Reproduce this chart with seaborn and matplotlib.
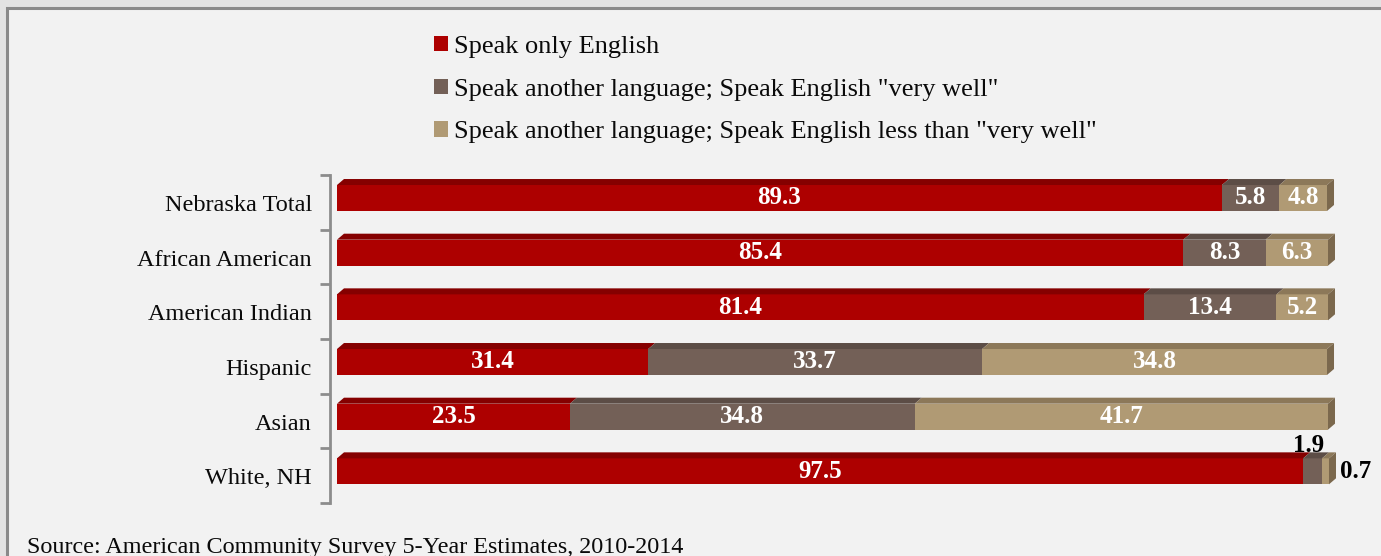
import numpy as np
import pandas as pd
import matplotlib
matplotlib.use("Agg")
import matplotlib.pyplot as plt
from matplotlib.patches import Polygon, Rectangle, Patch
from matplotlib.transforms import ScaledTranslation
import seaborn as sns

# Language spoken at home by race/ethnicity (percent)
categories = ["Nebraska Total", "African American", "American Indian",
              "Hispanic", "Asian", "White, NH"]
only_english = [89.3, 85.4, 81.4, 31.4, 23.5, 97.5]
english_very_well = [5.8, 8.3, 13.4, 33.7, 34.8, 1.9]
english_less_well = [4.8, 6.3, 5.2, 34.8, 41.7, 0.7]
series_names = ["Speak only English",
                'Speak another language; Speak English "very well"',
                'Speak another language; Speak English less than "very well"']

front_colors = ["#ad0000", "#736057", "#b09a74"]
top_colors = ["#850000", "#5c4d46", "#8c7859"]
side_color = "#7b684d"

sns.set_theme(style="white")
plt.rcParams["font.family"] = ["Liberation Serif", "DejaVu Serif"]
plt.rcParams["text.color"] = "#0a0a0a"

W, H = 1381, 556
fig = plt.figure(figsize=(W / 100, H / 100), dpi=100)
fig.patch.set_facecolor("#e3e3e3")

# inner panel with grey frame (behind the axes)
fig.patches.append(Rectangle((7 / W, -0.05), 1.2, 1.05 - 8 / H, transform=fig.transFigure,
                             facecolor="#f2f2f2", edgecolor="#8a8a8a", linewidth=2.2,
                             zorder=-5))

# axes geometry in pixels
ax_left, ax_right = 330, 1381
ax_top, ax_bot = 175, 503
ax = fig.add_axes([ax_left / W, (H - ax_bot) / H, (ax_right - ax_left) / W,
                   (ax_bot - ax_top) / H])
ax.set_facecolor("none")
ax.set_zorder(2)

ppx = 9.91                      # pixels per percentage point
x0_px = 337                     # pixel position of zero
xmin = -(x0_px - ax_left) / ppx
xmax = (ax_right - x0_px) / ppx
row_px = (ax_bot - ax_top) / 6.0
ytop_lim = -23 / row_px         # bar front centred 23 px below the frame top
ylims = (ytop_lim + 6, ytop_lim)

df = pd.DataFrame({"cat": categories, "a": only_english,
                   "b": english_very_well, "c": english_less_well})
series = [df["a"].to_numpy(), df["b"].to_numpy(), df["c"].to_numpy()]
cums = np.cumsum(np.vstack(series), axis=0)

bar_w = 0.475
# stacked bars: widest cumulative layer first
for k in [2, 1, 0]:
    sns.barplot(x=cums[k], y=df["cat"], orient="h", color=front_colors[k],
                saturation=1, width=bar_w, ax=ax, zorder=2, linewidth=0)

ax.set_xlim(xmin, xmax)
ax.set_ylim(*ylims)

# 3D top and side faces
dx = 7 / ppx
dy = 6 / row_px
for i in range(len(categories)):
    yt = i - bar_w / 2
    yb = i + bar_w / 2
    left = 0.0
    for k in range(3):
        right = left + series[k][i]
        ax.add_patch(Polygon([(left, yt), (right, yt), (right + dx, yt - dy),
                              (left + dx, yt - dy)], closed=True,
                             facecolor=top_colors[k], edgecolor="none", zorder=3))
        left = right
    ax.add_patch(Polygon([(left, yt), (left + dx, yt - dy), (left + dx, yb - dy),
                          (left, yb)], closed=True, facecolor=side_color,
                         edgecolor="none", zorder=3))

# value labels
lab_kw = dict(fontsize=18, fontweight="bold", va="center", zorder=5)
for i in range(len(categories)):
    left = 0.0
    for k in range(3):
        v = series[k][i]
        right = left + v
        if v >= 3:
            ax.text((left + right) / 2, i, f"{v:.1f}", ha="center", color="white", **lab_kw)
        elif k == 1:
            ax.text((left + right) / 2 - 0.4, i - 0.48, f"{v:.1f}", ha="center",
                    color="black", **lab_kw)
        else:
            ax.text(right + dx + 0.4, i, f"{v:.1f}", ha="left", color="black", **lab_kw)
        left = right

# axis: left spine with boundary ticks
for s in ["top", "right", "bottom"]:
    ax.spines[s].set_visible(False)
ax.spines["left"].set_color("#8c8c8c")
ax.spines["left"].set_linewidth(2)
ax.set_xticks([])
ax.set_xlabel("")
ax.set_ylabel("")
ax.set_yticks(range(len(categories)))
ax.set_yticklabels(categories, fontsize=17.5, color="#0a0a0a")
ax.set_yticks(np.arange(7) + ytop_lim, minor=True)
ax.tick_params(axis="y", which="major", length=0, pad=13)
ax.tick_params(axis="y", which="minor", length=7, width=2, color="#8c8c8c", left=True)
offset = ScaledTranslation(0, -5 / 100, fig.dpi_scale_trans)
for lab in ax.get_yticklabels():
    lab.set_transform(lab.get_transform() + offset)

# legend
handles = [Patch(facecolor=c, edgecolor="none") for c in front_colors]
leg = fig.legend(handles, series_names, loc="upper left",
                 bbox_to_anchor=(434 / W, 1 - 36 / H), frameon=False, fontsize=19,
                 handlelength=0.52, handleheight=0.52, handletextpad=0.22,
                 labelspacing=0.78, borderpad=0, borderaxespad=0)
for t in leg.get_texts():
    t.set_color("#0a0a0a")

fig.text(27 / W, 3 / H, "Source: American Community Survey 5-Year Estimates, 2010-2014",
         fontsize=17.4, color="#0a0a0a", va="baseline", ha="left")

fig.savefig("out.png", dpi=100, facecolor=fig.get_facecolor())
